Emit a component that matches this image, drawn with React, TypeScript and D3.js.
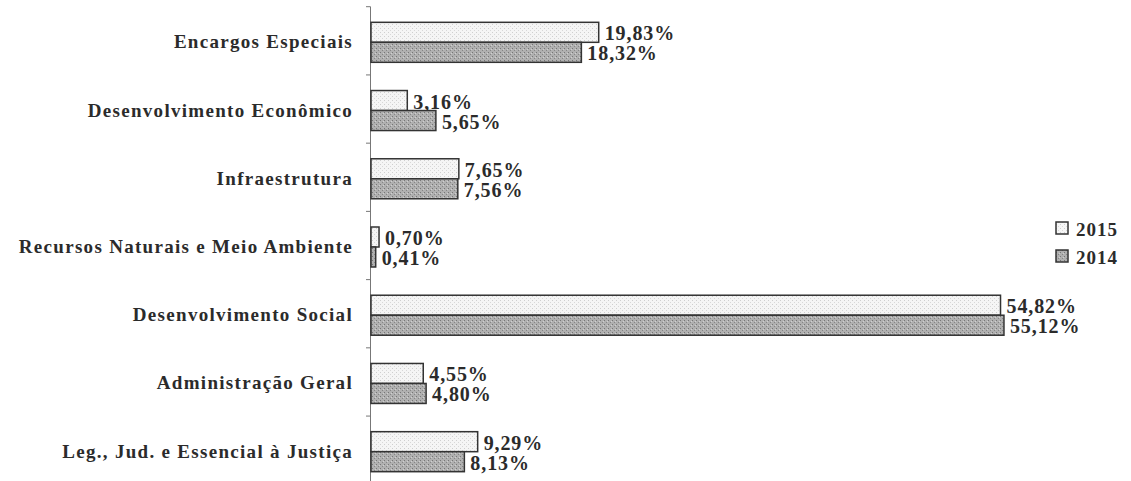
import React from "react";
import * as d3 from "d3";

const categories = [
  "Encargos Especiais",
  "Desenvolvimento Econômico",
  "Infraestrutura",
  "Recursos Naturais e Meio Ambiente",
  "Desenvolvimento Social",
  "Administração Geral",
  "Leg., Jud. e Essencial à Justiça",
];
const values2015 = [19.83, 3.16, 7.65, 0.7, 54.82, 4.55, 9.29];
const values2014 = [18.32, 5.65, 7.56, 0.41, 55.12, 4.8, 8.13];
const seriesNames = ["2015", "2014"];

const W = 1131;
const H = 481;
const FONT = "'Liberation Serif', 'Times New Roman', serif";
const INK = "#2b2b2b";

const fmt = (v: number) => v.toFixed(2).replace(".", ",") + "%";

export default function App() {
  const y = d3.scaleBand<string>().domain(categories).range([6.7, 484.3]).paddingInner(0).paddingOuter(0);
  const x = d3.scaleLinear().domain([0, 60]).range([371, 1060]);
  const inner = d3.scaleBand<string>().domain(seriesNames).range([0, 40]);
  const barOffset = (y.bandwidth() - 40) / 2 + 1.5;
  const fills = ["url(#dots2015)", "url(#dots2014)"];
  const series = [values2015, values2014];
  const ticks = d3.range(categories.length + 1).map((i) => 6.7 + i * y.step());

  return (
    <svg width={W} height={H} style={{ position: "absolute", left: 0, top: 0, background: "#fff" }}>
      <defs>
        <pattern id="dots2015" width="4" height="4" patternUnits="userSpaceOnUse">
          <rect width="4" height="4" fill="#f5f5f5" />
          <rect x="0" y="0" width="1" height="1" fill="#cfcfcf" />
          <rect x="2" y="2" width="1" height="1" fill="#d8d8d8" />
        </pattern>
        <pattern id="dots2014" width="4" height="4" patternUnits="userSpaceOnUse">
          <rect width="4" height="4" fill="#b0b0b0" />
          <rect x="0" y="0" width="1" height="1" fill="#767676" />
          <rect x="2" y="2" width="1" height="1" fill="#868686" />
          <rect x="3" y="1" width="1" height="1" fill="#d0d0d0" />
        </pattern>
      </defs>

      {/* category axis */}
      <line x1={370.5} x2={370.5} y1={6.7} y2={H} stroke="#777" strokeWidth={1} />
      {ticks.map((t, i) => (
        <line key={i} x1={366} x2={370.5} y1={t} y2={t} stroke="#777" strokeWidth={1} />
      ))}

      {categories.map((c, ci) => (
        <g key={c}>
          <text
            x={353}
            y={(y(c) as number) + y.bandwidth() / 2 + 1}
            textAnchor="end"
            dominantBaseline="central"
            fontFamily={FONT}
            fontWeight="bold"
            fontSize={19}
            letterSpacing={1.3}
            fill={INK}
          >
            {c}
          </text>
          {series.map((vals, si) => {
            const top = (y(c) as number) + barOffset + (inner(seriesNames[si]) as number);
            const h = inner.bandwidth();
            const x0 = x(0);
            const x1 = x(vals[ci]);
            return (
              <g key={si}>
                <rect
                  x={x0}
                  y={top}
                  width={x1 - x0}
                  height={h}
                  fill={fills[si]}
                  stroke="#333"
                  strokeWidth={1.5}
                />
                <text
                  x={x1 + 6}
                  y={top + h / 2 + 1}
                  dominantBaseline="central"
                  fontFamily={FONT}
                  fontWeight="bold"
                  fontSize={20}
                  letterSpacing={0.9}
                  fill={INK}
                >
                  {fmt(vals[ci])}
                </text>
              </g>
            );
          })}
        </g>
      ))}

      {/* legend */}
      {seriesNames.map((s, i) => (
        <g key={s} transform={`translate(1056, ${228 + i * 28})`}>
          <rect x={0} y={-6} width={12} height={12} fill={fills[i]} stroke="#333" strokeWidth={1.5} />
          <text
            x={20}
            y={1}
            dominantBaseline="central"
            fontFamily={FONT}
            fontWeight="bold"
            fontSize={19}
            letterSpacing={1}
            fill={INK}
          >
            {s}
          </text>
        </g>
      ))}
    </svg>
  );
}
